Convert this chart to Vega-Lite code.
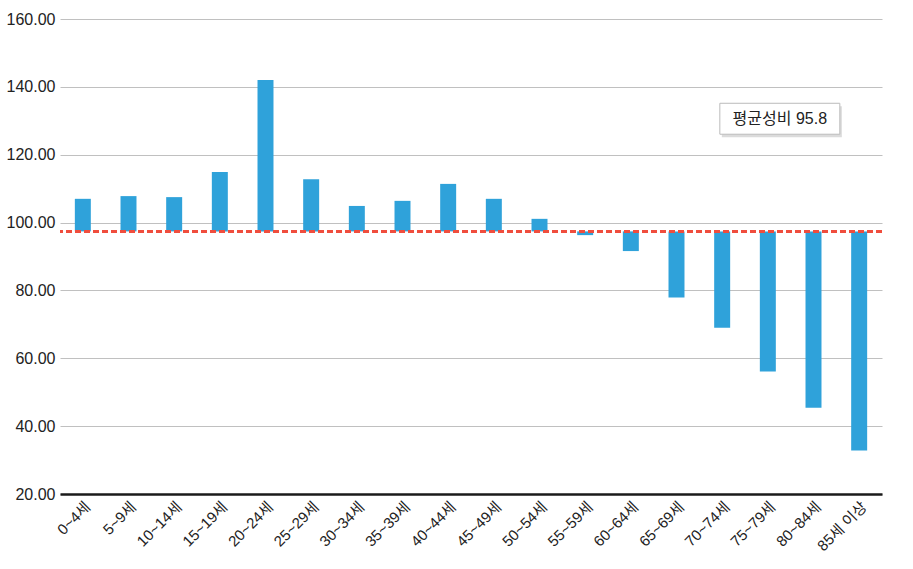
{
  "$schema": "https://vega.github.io/schema/vega-lite/v6.json",
  "width": 822,
  "height": 475,
  "autosize": {"type": "none"},
  "padding": {"left": 60, "top": 19, "right": 31, "bottom": 75},
  "background": "white",
  "config": {
    "view": {"stroke": null},
    "font": "Liberation Sans, Noto Sans CJK KR",
    "axis": {"labelFont": "Liberation Sans, Noto Sans CJK KR", "labelColor": "#222222", "titleFont": "Liberation Sans, Noto Sans CJK KR"}
  },
  "datasets": {
    "ratio": [
      {"age": "0~4세", "value": 107.0},
      {"age": "5~9세", "value": 107.8},
      {"age": "10~14세", "value": 107.5},
      {"age": "15~19세", "value": 114.9},
      {"age": "20~24세", "value": 142.0},
      {"age": "25~29세", "value": 112.8},
      {"age": "30~34세", "value": 104.9},
      {"age": "35~39세", "value": 106.4},
      {"age": "40~44세", "value": 111.4},
      {"age": "45~49세", "value": 107.0},
      {"age": "50~54세", "value": 101.1},
      {"age": "55~59세", "value": 96.3},
      {"age": "60~64세", "value": 91.6},
      {"age": "65~69세", "value": 77.9},
      {"age": "70~74세", "value": 69.0},
      {"age": "75~79세", "value": 56.1},
      {"age": "80~84세", "value": 45.4},
      {"age": "85세 이상", "value": 32.8}
    ],
    "note": [
      {"age": "75~79세", "y": 130.6, "label": "평균성비 95.8"}
    ]
  },
  "layer": [
    {
      "data": {"name": "ratio"},
      "mark": {"type": "bar", "color": "#2fa2da"},
      "encoding": {
        "x": {
          "field": "age", "type": "nominal",
          "sort": ["0~4세", "5~9세", "10~14세", "15~19세", "20~24세", "25~29세", "30~34세", "35~39세", "40~44세", "45~49세", "50~54세", "55~59세", "60~64세", "65~69세", "70~74세", "75~79세", "80~84세", "85세 이상"],
          "scale": {"paddingInner": 0.65},
          "axis": {
            "title": null, "labelAngle": -45, "labelFontSize": 15, "ticks": false,
            "domainColor": "#1a1a1a", "domainWidth": 2.5, "labelPadding": 5, "grid": false
          }
        },
        "y": {
          "field": "value", "type": "quantitative",
          "scale": {"domain": [20, 160], "nice": false, "zero": false},
          "axis": {
            "title": null, "values": [20, 40, 60, 80, 100, 120, 140, 160], "format": ".2f",
            "labelFontSize": 16, "ticks": false, "domain": false, "labelPadding": 5,
            "gridColor": "#c0c0c0", "gridWidth": 1
          }
        },
        "y2": {"datum": 97.4}
      }
    },
    {
      "data": {"name": "ratio"},
      "mark": {"type": "rule", "color": "#f04e3e", "strokeWidth": 2.5, "strokeDash": [6, 3]},
      "encoding": {"y": {"datum": 97.4, "type": "quantitative"}}
    },
    {
      "data": {"name": "note"},
      "mark": {
        "type": "point", "shape": "M-1,-0.258L1,-0.258L1,0.258L-1,0.258Z", "size": 14400,
        "filled": true, "fill": "#999999", "opacity": 0.35, "strokeWidth": 0, "xOffset": 14, "yOffset": 3
      },
      "encoding": {
        "x": {"field": "age", "type": "nominal", "sort": ["0~4세", "5~9세", "10~14세", "15~19세", "20~24세", "25~29세", "30~34세", "35~39세", "40~44세", "45~49세", "50~54세", "55~59세", "60~64세", "65~69세", "70~74세", "75~79세", "80~84세", "85세 이상"]},
        "y": {"field": "y", "type": "quantitative"}
      }
    },
    {
      "data": {"name": "note"},
      "mark": {
        "type": "point", "shape": "M-1,-0.258L1,-0.258L1,0.258L-1,0.258Z", "size": 14400,
        "filled": true, "fill": "white", "stroke": "#bbbbbb", "strokeWidth": 1, "opacity": 1, "xOffset": 12
      },
      "encoding": {
        "x": {"field": "age", "type": "nominal", "sort": ["0~4세", "5~9세", "10~14세", "15~19세", "20~24세", "25~29세", "30~34세", "35~39세", "40~44세", "45~49세", "50~54세", "55~59세", "60~64세", "65~69세", "70~74세", "75~79세", "80~84세", "85세 이상"]},
        "y": {"field": "y", "type": "quantitative"}
      }
    },
    {
      "data": {"name": "note"},
      "mark": {"type": "text", "fontSize": 16, "color": "#222222", "align": "center", "baseline": "middle", "dx": 12},
      "encoding": {
        "x": {"field": "age", "type": "nominal", "sort": ["0~4세", "5~9세", "10~14세", "15~19세", "20~24세", "25~29세", "30~34세", "35~39세", "40~44세", "45~49세", "50~54세", "55~59세", "60~64세", "65~69세", "70~74세", "75~79세", "80~84세", "85세 이상"]},
        "y": {"field": "y", "type": "quantitative"},
        "text": {"field": "label"}
      }
    }
  ]
}
